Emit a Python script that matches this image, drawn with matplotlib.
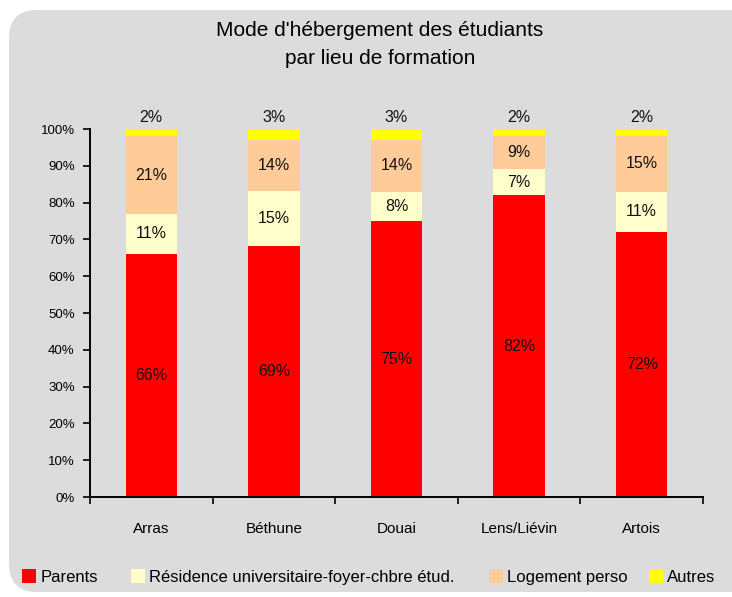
import matplotlib
matplotlib.use("Agg")
import matplotlib.pyplot as plt
from matplotlib.patches import FancyBboxPatch
import numpy as np

plt.rcParams['font.family'] = ['Liberation Sans', 'DejaVu Sans']

categories = ["Arras", "Béthune", "Douai", "Lens/Liévin", "Artois"]
series_names = ["Parents", "Résidence universitaire-foyer-chbre étud.", "Logement perso", "Autres"]
parents = [66, 69, 75, 82, 72]
residence = [11, 15, 8, 7, 11]
logement = [21, 14, 14, 9, 15]
autres = [2, 3, 3, 2, 2]
colors = ["#ff0000", "#ffffcc", "#ffcc99", "#ffff00"]
yticks = [0, 10, 20, 30, 40, 50, 60, 70, 80, 90, 100]
ytick_labels = [f"{t}%" for t in yticks]

W, H = 732, 597
fig = plt.figure(figsize=(W / 100, H / 100), dpi=100)
fig.patch.set_facecolor("white")
bg = FancyBboxPatch((9, 5), 800, 582, boxstyle="round,pad=0,rounding_size=28",
                    transform=None, facecolor="#dcdcdc", edgecolor="none", zorder=-5)
fig.patches.append(bg)

ax = fig.add_axes([90 / W, (H - 497) / H, (703 - 90) / W, (497 - 129) / H])
ax.set_zorder(2)
ax.set_facecolor("#dcdcdc")

data = np.array([parents, residence, logement, autres], dtype=float)
totals = data.sum(axis=0)
norm = data / totals * 100
x = np.arange(len(categories))
bottom = np.zeros(len(categories))
for i, (name, col) in enumerate(zip(series_names, colors)):
    ax.bar(x, norm[i], 0.42, bottom=bottom, color=col, label=name,
           edgecolor="none", zorder=2)
    for j in range(len(categories)):
        if i == 3:
            ax.text(x[j], 100 + 1.2, f"{int(data[i, j])}%", ha="center", va="bottom",
                    fontsize=11.5, color="#111111", clip_on=False)
        else:
            ax.text(x[j], bottom[j] + norm[i, j] / 2, f"{int(data[i, j])}%",
                    ha="center", va="center", fontsize=11.5, color="#111111")
    bottom += norm[i]

ax.set_xlim(-0.5, len(categories) - 0.5)
ax.set_ylim(0, 100)
ax.set_yticks(yticks)
ax.set_yticklabels(ytick_labels, fontsize=9.5)
ax.set_xticks(x)
ax.set_xticklabels(categories, fontsize=11)
ax.set_xticks(np.arange(-0.5, len(categories), 1), minor=True)
ax.tick_params(axis="x", which="major", length=0, pad=18)
ax.tick_params(axis="x", which="minor", length=5, width=1.2, direction="out")
ax.tick_params(axis="y", length=5, width=1.2, direction="out", pad=6)
for s in ["top", "right"]:
    ax.spines[s].set_visible(False)
for s in ["left", "bottom"]:
    ax.spines[s].set_linewidth(1.4)
    ax.spines[s].set_color("black")

fig.text(380 / W, 1 - 30 / H, "Mode d'hébergement des étudiants", ha="center", va="center",
         fontsize=15)
fig.text(380 / W, 1 - 58 / H, "par lieu de formation", ha="center", va="center",
         fontsize=15)

handles, labels = ax.get_legend_handles_labels()
leg_x = [22, 131, 489, 649]
for h, l, lx in zip(handles, labels, leg_x):
    lg = fig.legend([h], [l], loc="center left", bbox_to_anchor=(lx / W, 1 - 577 / H),
                    frameon=False, fontsize=12, handlelength=0.85, handleheight=0.95,
                    handletextpad=0.25, borderaxespad=0, borderpad=0)

fig.savefig("out.png", dpi=100, facecolor="white")
